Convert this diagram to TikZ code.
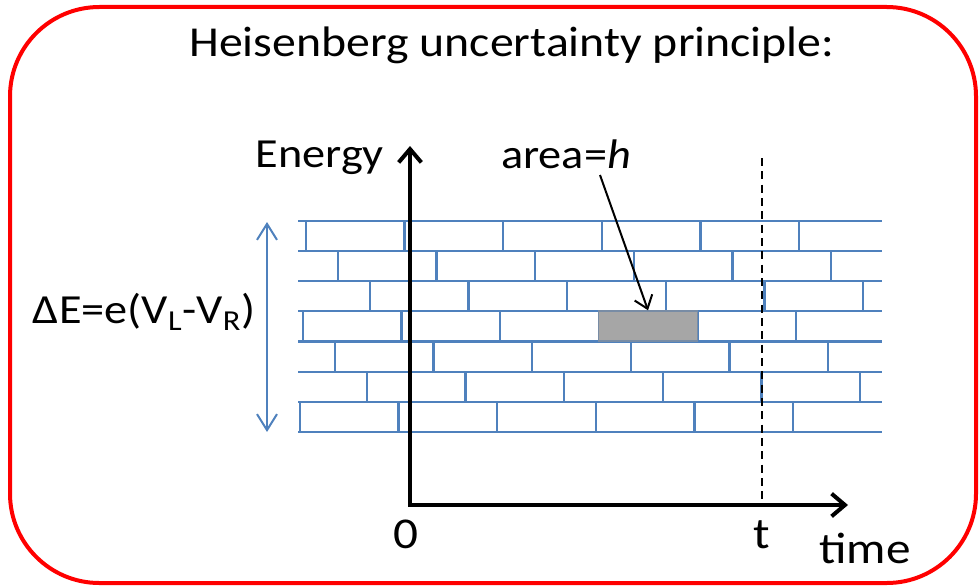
\documentclass[tikz,border=0pt]{standalone}
\usepackage{fontspec}
\setmainfont{Carlito}[FakeStretch=1.12]
\usetikzlibrary{arrows.meta,positioning}
\definecolor{frameRed}{RGB}{255,0,0}
\definecolor{brickBlue}{RGB}{79,129,189}
\definecolor{brickGrey}{RGB}{166,166,166}
\definecolor{brickEdge}{RGB}{120,140,165}

\begin{document}
\begin{tikzpicture}[
  x=0.75pt,
  y=-0.75pt,
  txt/.style={
    font=\fontsize{31}{37}\selectfont,
    inner sep=0pt
  },
  bigtxt/.style={
    font=\fontsize{33}{39}\selectfont,
    inner sep=0pt
  },
  mortar/.style={brickBlue,line width=1.7pt},
  hbrick/.style={
    draw=brickEdge,
    fill=brickGrey,
    line width=1pt,
    minimum width=73.9pt,
    minimum height=22.6pt,
    inner sep=0pt
  },
  axes/.style={{Straight Barb[length=10pt,width=17pt]}-{Straight Barb[length=10pt,width=17pt]},line width=3pt},
  pointer/.style={-{Straight Barb[length=9pt,width=14pt]},line width=1.5pt},
  spread/.style={{Straight Barb[length=12pt,width=15pt]}-{Straight Barb[length=12pt,width=15pt]},brickBlue,line width=1.5pt},
  tline/.style={dashed,dash pattern=on 6pt off 4pt,line width=1.5pt}
]
  \useasboundingbox (0,0) rectangle (980,585);
  \draw[frameRed,line width=3pt,rounded corners=67pt] (10,7) rectangle (976,583);

  \node[txt,font=\fontsize{32}{38}\selectfont,anchor=base] (title) at (512,57) {Heisenberg uncertainty principle:};

  % bricks
  \foreach \i in {0,...,7}
    \draw[mortar] (298,{220.7+30.2*\i}) -- (882,{220.7+30.2*\i});
  \foreach \r/\off in {0/306,1/338,2/370,3/303,4/335,5/367,6/300}
    \foreach \k in {0,...,5}
      \draw[mortar] ({\off+98.6*\k},{220.7+30.2*\r}) -- ({\off+98.6*\k},{250.9+30.2*\r});
  \node[hbrick] (quantum) at (648,326) {};

  % axes
  \coordinate (origin) at (410,505);
  \coordinate (eTip) at (410,146);
  \coordinate (tTip) at (848,505);
  \draw[axes] (eTip) -- (origin) -- (tTip);
  \coordinate (tTop) at (762,158);
  \coordinate (tFoot) at (762,505);
  \draw[tline] (tTop) -- (tFoot);

  \node[txt,anchor=base east] (energy) at (384,167) {Energy};
  \node[txt,anchor=base] (area) at (566,168) {area=\textit{h}};
  \node[bigtxt,anchor=base] (zero) at (406,548) {0};
  \node[bigtxt,anchor=base] (tlabel) at (762,548) {t};
  \node[bigtxt,anchor=base] (timelabel) at (865,563) {time};
  \node[txt,anchor=base] (deltaE) at (144,323) {ΔE=e(V\textsubscript{L}-V\textsubscript{R})};

  \coordinate (pointerStart) at (600,175);
  \draw[pointer] (pointerStart) -- (quantum.north);

  \coordinate (dETop) at (267,222);
  \coordinate (dEBot) at (267,432);
  \draw[spread] (dETop) -- (dEBot);
\end{tikzpicture}
\end{document}
